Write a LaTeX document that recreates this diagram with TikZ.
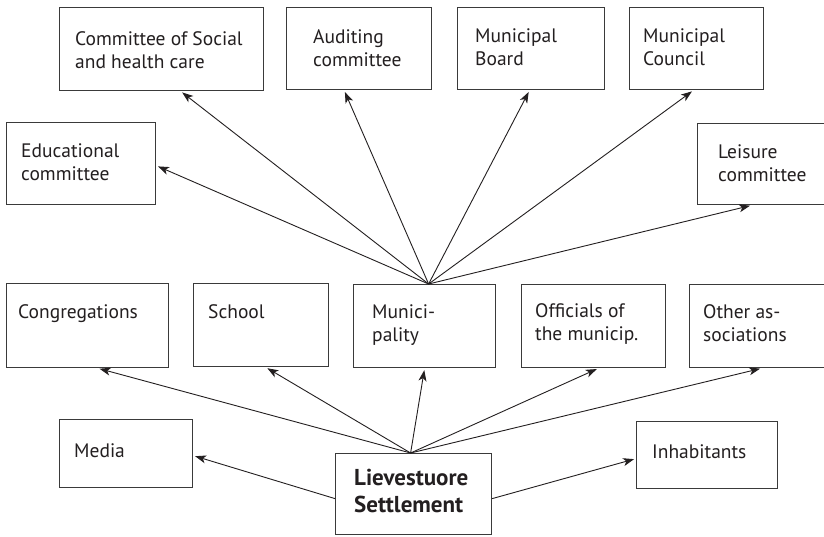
\documentclass[tikz,border=0pt]{standalone}
\usepackage{fontspec}
\setmainfont{PT Sans}
\usetikzlibrary{arrows.meta}
\definecolor{ink}{HTML}{231F20}
\definecolor{edge}{HTML}{3A3A3A}
\tikzset{
  box/.style={draw=edge, line width=1.2pt, rectangle, anchor=north west, inner sep=0pt, fill=white},
  lbl/.style={anchor=base west, inner sep=0pt, align=left, text=ink, font=\fontsize{19.5}{23.5}\selectfont},
  blbl/.style={anchor=base west, inner sep=0pt, align=left, text=ink, font=\fontsize{23}{27}\selectfont\bfseries},
  arr/.style={draw=ink, line width=0.9pt, -{Stealth[length=11pt,width=8pt,inset=3pt]}, shorten >=2pt}
}
\begin{document}
\begin{tikzpicture}[x=1pt,y=-1pt]
\useasboundingbox (0,0) rectangle (824,536);
\fill[white] (0,0) rectangle (824,536);
% boxes
\node[box, minimum width=204pt, minimum height=83pt] (social) at (59,7) {};
\node[box, minimum width=145pt, minimum height=82pt] (audit) at (286,7) {};
\node[box, minimum width=147pt, minimum height=82pt] (board) at (457,7) {};
\node[box, minimum width=134pt, minimum height=82pt] (council) at (629,7) {};
\node[box, minimum width=149pt, minimum height=82pt] (edu) at (6,122) {};
\node[box, minimum width=133pt, minimum height=81pt] (leisure) at (697,123) {};
\node[box, minimum width=162pt, minimum height=84pt] (congr) at (6,283) {};
\node[box, minimum width=135pt, minimum height=83pt] (school) at (193,283) {};
\node[box, minimum width=142pt, minimum height=83pt] (muni) at (353,284) {};
\node[box, minimum width=144pt, minimum height=83pt] (offic) at (521,284) {};
\node[box, minimum width=141pt, minimum height=83pt] (other) at (689,284) {};
\node[box, minimum width=133pt, minimum height=68pt] (media) at (59,419) {};
\node[box, minimum width=156pt, minimum height=81pt] (lieve) at (335,453) {};
\node[box, minimum width=141pt, minimum height=67pt] (inhab) at (636,421) {};
% labels (base = baseline of the last line)
\node[lbl] (tsocial) at (75,68.5) {Committee of Social\\and health care};
\node[lbl] (taudit) at (313,66.5) {Auditing\\committee};
\node[lbl] (tboard) at (475,65.5) {Municipal\\Board};
\node[lbl] (tcouncil) at (643,65.5) {Municipal\\Council};
\node[lbl] (tedu) at (21,180.5) {Educational\\committee};
\node[lbl] (tleisure) at (718,181.5) {Leisure\\committee};
\node[lbl] (tcongr) at (18,318) {Congregations};
\node[lbl] (tschool) at (208,318) {School};
\node[lbl] (tmuni) at (372,341.5) {Munici-\\pality};
\node[lbl] (toffic) at (535,340.5) {Officials of\\the municip.};
\node[lbl] (tother) at (703,341.5) {Other as-\\sociations};
\node[lbl] (tmedia) at (74,457) {Media};
\node[lbl] (tinhab) at (652,458) {Inhabitants};
\node[blbl] (tlieve) at (354,512) {Lievestuore\\Settlement};
% arrows from municipality
\draw[arr] ([xshift=4pt]muni.north) -- ([xshift=19pt]social.south);
\draw[arr] ([xshift=4pt]muni.north) -- ([yshift=-2pt]edu.east);
\draw[arr] ([xshift=4pt]muni.north) -- ([xshift=-15pt]audit.south);
\draw[arr] ([xshift=4pt]muni.north) -- ([xshift=-1.5pt]board.south);
\draw[arr] ([xshift=4pt]muni.north) -- ([xshift=-3pt]council.south);
\draw[arr] ([xshift=4pt]muni.north) -- ([xshift=55pt]leisure.south west);
% arrows from settlement
\draw[arr] ([xshift=-3pt]lieve.north) -- ([xshift=10pt]congr.south);
\draw[arr] ([xshift=-3pt]lieve.north) -- ([xshift=4.5pt]school.south);
\draw[arr] ([xshift=-3pt]lieve.north) -- (muni.south);
\draw[arr] ([xshift=-3pt]lieve.north) -- ([xshift=5pt]offic.south);
\draw[arr] ([xshift=-3pt]lieve.north) -- ([xshift=73pt]other.south west);
\draw[arr] ([yshift=-4.5pt]lieve.west) -- ([yshift=-2pt]media.east);
\draw[arr] ([yshift=-4.5pt]lieve.east) -- ([yshift=-3.5pt]inhab.west);
\end{tikzpicture}
\end{document}
